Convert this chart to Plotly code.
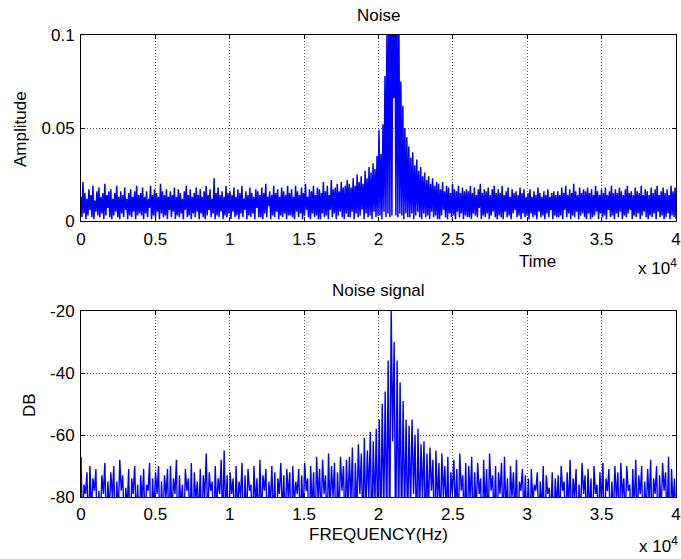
import numpy as np
import plotly.graph_objects as go

# ---------------- data ----------------
x_max = 40000  # samples span 0 .. 4 x 10^4

# top panel "Noise": local maxima / minima of the amplitude trace, left to right
top_peaks = [
    0.013, 0.021, 0.015, 0.012, 0.017, 0.014, 0.019, 0.011, 0.016, 0.018, 0.013, 0.015, 0.020, 0.014, 0.016,
    0.017, 0.012, 0.015, 0.019, 0.013, 0.016, 0.014, 0.018, 0.012, 0.015, 0.017, 0.013, 0.016, 0.019, 0.014,
    0.015, 0.018, 0.013, 0.016, 0.012, 0.019, 0.014, 0.017, 0.015, 0.013, 0.020, 0.016, 0.014, 0.017, 0.013,
    0.016, 0.014, 0.018, 0.013, 0.017, 0.015, 0.012, 0.016, 0.019, 0.014, 0.017, 0.013, 0.015, 0.018, 0.014,
    0.017, 0.013, 0.016, 0.019, 0.014, 0.017, 0.012, 0.023, 0.015, 0.018, 0.014, 0.016, 0.013, 0.019, 0.015,
    0.016, 0.014, 0.018, 0.013, 0.017, 0.015, 0.019, 0.012, 0.016, 0.014, 0.018, 0.015, 0.013, 0.017, 0.016,
    0.014, 0.018, 0.015, 0.020, 0.013, 0.016, 0.014, 0.019, 0.015, 0.017, 0.013, 0.018, 0.016, 0.014, 0.019,
    0.015, 0.017, 0.013, 0.019, 0.016, 0.014, 0.018, 0.015, 0.020, 0.013, 0.017, 0.016, 0.019, 0.014, 0.018,
    0.017, 0.015, 0.021, 0.016, 0.019, 0.014, 0.022, 0.017, 0.018, 0.020, 0.016, 0.021, 0.018, 0.019, 0.022,
    0.020, 0.018, 0.023, 0.019, 0.025, 0.021, 0.024, 0.020, 0.027, 0.023, 0.029, 0.026, 0.031, 0.028, 0.035,
    0.049, 0.036, 0.052, 0.078, 0.105, 0.130, 0.150, 0.140, 0.150, 0.130, 0.110, 0.075, 0.062, 0.050, 0.045,
    0.040, 0.034, 0.037, 0.030, 0.033, 0.027, 0.029, 0.024, 0.026, 0.022, 0.024, 0.020, 0.023, 0.019, 0.021,
    0.020, 0.017, 0.021, 0.016, 0.019, 0.018, 0.015, 0.020, 0.017, 0.016, 0.019, 0.015, 0.018, 0.016, 0.017,
    0.016, 0.019, 0.015, 0.018, 0.014, 0.017, 0.020, 0.015, 0.017, 0.016, 0.018, 0.014, 0.017, 0.019, 0.015,
    0.017, 0.015, 0.019, 0.014, 0.016, 0.018, 0.013, 0.017, 0.015, 0.016, 0.014, 0.018, 0.015, 0.017, 0.013,
    0.015, 0.017, 0.013, 0.016, 0.014, 0.018, 0.015, 0.013, 0.016, 0.014, 0.017, 0.013, 0.015, 0.016, 0.014,
    0.016, 0.014, 0.018, 0.015, 0.019, 0.014, 0.017, 0.015, 0.020, 0.016, 0.014, 0.018, 0.015, 0.017, 0.016,
    0.018, 0.015, 0.017, 0.014, 0.019, 0.016, 0.014, 0.017, 0.015, 0.018, 0.014, 0.016, 0.019, 0.015, 0.017,
    0.015, 0.018, 0.016, 0.014, 0.017, 0.019, 0.015, 0.016, 0.014, 0.018, 0.016, 0.015, 0.019, 0.014, 0.017,
    0.016, 0.014, 0.018, 0.015, 0.017, 0.019, 0.014, 0.016, 0.018, 0.015, 0.017, 0.014, 0.019, 0.016, 0.018,
]
top_troughs = [
    0.002, 0.004, 0.001, 0.003, 0.006, 0.002, 0.001, 0.005, 0.003, 0.002, 0.004, 0.001, 0.003, 0.007, 0.002,
    0.001, 0.003, 0.005, 0.002, 0.001, 0.004, 0.002, 0.006, 0.001, 0.003, 0.002, 0.005, 0.001, 0.003, 0.004,
    0.003, 0.001, 0.004, 0.002, 0.007, 0.001, 0.003, 0.002, 0.005, 0.001, 0.004, 0.002, 0.003, 0.001, 0.006,
    0.002, 0.005, 0.001, 0.003, 0.002, 0.004, 0.001, 0.006, 0.002, 0.003, 0.001, 0.004, 0.002, 0.005, 0.001,
    0.004, 0.002, 0.001, 0.003, 0.006, 0.002, 0.004, 0.001, 0.003, 0.002, 0.005, 0.001, 0.003, 0.002, 0.004,
    0.001, 0.005, 0.002, 0.003, 0.001, 0.004, 0.002, 0.006, 0.001, 0.003, 0.002, 0.004, 0.001, 0.007, 0.002,
    0.002, 0.001, 0.004, 0.002, 0.008, 0.001, 0.003, 0.002, 0.005, 0.001, 0.003, 0.002, 0.004, 0.001, 0.003,
    0.003, 0.002, 0.001, 0.005, 0.002, 0.004, 0.001, 0.003, 0.006, 0.002, 0.001, 0.004, 0.002, 0.003, 0.001,
    0.001, 0.004, 0.002, 0.003, 0.001, 0.006, 0.002, 0.004, 0.001, 0.003, 0.005, 0.002, 0.001, 0.004, 0.002,
    0.002, 0.005, 0.001, 0.004, 0.002, 0.003, 0.006, 0.001, 0.004, 0.002, 0.003, 0.001, 0.005, 0.002, 0.003,
    0.003, 0.001, 0.005, 0.002, 0.004, 0.002, 0.003, 0.066, 0.003, 0.002, 0.004, 0.003, 0.001, 0.004, 0.002,
    0.002, 0.004, 0.001, 0.003, 0.005, 0.002, 0.001, 0.004, 0.002, 0.003, 0.001, 0.005, 0.002, 0.003, 0.001,
    0.001, 0.003, 0.006, 0.002, 0.001, 0.004, 0.002, 0.003, 0.001, 0.005, 0.002, 0.004, 0.001, 0.003, 0.002,
    0.002, 0.001, 0.004, 0.003, 0.002, 0.007, 0.001, 0.003, 0.002, 0.004, 0.001, 0.003, 0.005, 0.002, 0.001,
    0.003, 0.002, 0.001, 0.005, 0.002, 0.003, 0.001, 0.004, 0.006, 0.002, 0.003, 0.001, 0.004, 0.002, 0.003,
    0.001, 0.004, 0.002, 0.003, 0.001, 0.005, 0.002, 0.003, 0.001, 0.004, 0.002, 0.006, 0.001, 0.003, 0.002,
    0.002, 0.003, 0.001, 0.006, 0.002, 0.004, 0.001, 0.003, 0.002, 0.005, 0.001, 0.003, 0.004, 0.002, 0.001,
    0.004, 0.001, 0.002, 0.003, 0.005, 0.001, 0.004, 0.002, 0.003, 0.001, 0.006, 0.002, 0.003, 0.001, 0.004,
    0.002, 0.005, 0.001, 0.003, 0.002, 0.004, 0.006, 0.001, 0.003, 0.002, 0.004, 0.001, 0.003, 0.005, 0.002,
    0.001, 0.003, 0.002, 0.004, 0.001, 0.005, 0.002, 0.003, 0.001, 0.002, 0.004, 0.001, 0.003, 0.002, 0.001,
]

# bottom panel "Noise signal": local maxima / minima of the dB trace
db_peaks = [
    -67, -76, -72, -70, -74, -71, -78, -73, -69, -75,
    -72, -70, -75, -68, -73, -77, -71, -74, -70, -76,
    -73, -71, -76, -69, -74, -72, -70, -75, -73, -71,
    -70, -74, -68, -73, -76, -71, -74, -69, -72, -75,
    -71, -73, -66, -72, -75, -70, -74, -68, -65, -73,
    -72, -74, -70, -75, -69, -73, -71, -76, -70, -74,
    -68, -73, -71, -75, -70, -72, -74, -69, -73, -71,
    -72, -70, -75, -71, -73, -69, -74, -70, -72, -67,
    -71, -68, -73, -66, -70, -69, -72, -67, -70, -68,
    -67, -64, -69, -63, -66, -61, -65, -59, -62, -58,
    -55, -50, -46, -36, -19, -30, -36, -43, -49, -55,
    -57, -55, -60, -58, -63, -62, -66, -64, -68, -65,
    -69, -66, -70, -67, -72, -68, -71, -66, -73, -69,
    -70, -67, -72, -69, -74, -68, -71, -66, -73, -70,
    -72, -69, -67, -74, -70, -72, -68, -75, -71, -73,
    -74, -71, -76, -72, -75, -70, -73, -77, -72, -74,
    -73, -70, -75, -72, -68, -74, -71, -76, -69, -73,
    -71, -74, -70, -76, -72, -69, -74, -71, -75, -70,
    -72, -69, -74, -70, -76, -71, -68, -73, -70, -75,
    -71, -68, -74, -70, -73, -69, -72, -67, -71, -74,
]
db_troughs = [
    -90, -79, -95, -85, -78, -100, -88, -79, -92, -84,
    -80, -96, -86, -78, -91, -83, -99, -79, -87, -93,
    -82, -90, -78, -97, -85, -79, -94, -88, -80, -92,
    -86, -79, -98, -83, -91, -78, -89, -95, -81, -87,
    -93, -80, -88, -78, -96, -84, -79, -90, -86, -99,
    -79, -92, -85, -80, -97, -88, -78, -93, -83, -90,
    -87, -78, -94, -82, -89, -100, -79, -86, -91, -80,
    -95, -83, -79, -90, -86, -78, -98, -84, -92, -81,
    -88, -79, -93, -85, -80, -96, -87, -78, -91, -84,
    -82, -97, -86, -79, -92, -88, -80, -94, -85, -90,
    -93, -86, -90, -95, -62, -98, -89, -92, -87, -91,
    -84, -79, -95, -88, -81, -93, -86, -78, -97, -83,
    -90, -80, -87, -96, -79, -85, -92, -78, -89, -94,
    -81, -93, -86, -79, -99, -84, -90, -78, -88, -95,
    -79, -91, -85, -97, -80, -87, -93, -78, -86, -92,
    -96, -82, -78, -90, -85, -99, -79, -88, -94, -83,
    -87, -78, -93, -84, -91, -80, -97, -86, -79, -90,
    -85, -94, -79, -89, -82, -96, -78, -92, -87, -81,
    -93, -80, -88, -78, -95, -84, -90, -79, -98, -86,
    -82, -91, -79, -94, -86, -78, -89, -97, -83, -90,
]

x_tickvals = [0, 5000, 10000, 15000, 20000, 25000, 30000, 35000, 40000]
x_ticktext = ["0", "0.5", "1", "1.5", "2", "2.5", "3", "3.5", "4"]
top_tickvals = [0, 0.05, 0.1]
top_ticktext = ["0", "0.05", "0.1"]
db_tickvals = [-80, -60, -40, -20]
db_ticktext = ["-80", "-60", "-40", "-20"]


def interleave(peaks, troughs):
    y = np.empty(len(peaks) + len(troughs))
    y[0::2] = peaks
    y[1::2] = troughs
    return y


y_top = interleave(top_peaks, top_troughs)
y_db = interleave(db_peaks, db_troughs)
x_top = np.linspace(0, x_max, len(y_top))
x_db = np.linspace(0, x_max, len(y_db))

# ---------------- figure ----------------
W, H = 681, 559
FONT = "Liberation Sans, Arial, sans-serif"
FS = 17

fig = go.Figure()
fig.add_trace(go.Scatter(x=x_top, y=y_top, mode="lines",
                         line=dict(color="#0000FF", width=1.5),
                         xaxis="x", yaxis="y", showlegend=False, hoverinfo="skip"))
fig.add_trace(go.Scatter(x=x_db, y=y_db, mode="lines",
                         line=dict(color="#0000FF", width=1.4),
                         xaxis="x2", yaxis="y2", showlegend=False, hoverinfo="skip"))

xdom = [81 / W, 676 / W]
top_dom = [(H - 221) / H, (H - 35) / H]
bot_dom = [(H - 497) / H, (H - 311) / H]

axis_common = dict(
    automargin=False,
    showline=True, linecolor="black", linewidth=1, mirror="ticks",
    ticks="inside", ticklen=4, tickcolor="black", tickwidth=1,
    showgrid=True, gridcolor="#555555", griddash="1px,2px", gridwidth=1,
    zeroline=False, tickfont=dict(family=FONT, size=FS, color="black"),
)

fig.update_layout(
    width=W, height=H, autosize=False,
    margin=dict(l=0, r=0, t=0, b=0, pad=0, autoexpand=False),
    paper_bgcolor="white", plot_bgcolor="white",
    font=dict(family=FONT, size=FS, color="black"),
    xaxis=dict(domain=xdom, anchor="y", range=[0, x_max],
               tickvals=x_tickvals, ticktext=x_ticktext, ticklabelstandoff=3, **axis_common),
    yaxis=dict(domain=top_dom, anchor="x", range=[0, 0.1],
               tickvals=top_tickvals, ticktext=top_ticktext, ticklabelstandoff=2, **axis_common),
    xaxis2=dict(domain=xdom, anchor="y2", range=[0, x_max],
                tickvals=x_tickvals, ticktext=x_ticktext, ticklabelstandoff=2, **axis_common),
    yaxis2=dict(domain=bot_dom, anchor="x2", range=[-80, -20],
                tickvals=db_tickvals, ticktext=db_ticktext, ticklabelstandoff=2, **axis_common),
)


def px_ann(text, x, y, **kw):
    fig.add_annotation(text=text, x=x / W, y=1 - y / H, xref="paper", yref="paper",
                       xanchor="center", yanchor="middle", showarrow=False,
                       font=dict(family=FONT, size=FS, color="black"), **kw)


px_ann("Noise", 378, 16)
px_ann("Noise signal", 378, 290)
px_ann("Time", 537, 261)
px_ann("FREQUENCY(Hz)", 378, 534)
px_ann("x 10<sup>4</sup>", 657, 267)
px_ann("x 10<sup>4</sup>", 658, 545)
px_ann("Amplitude", 20, 129, textangle=-90)
px_ann("DB", 29, 405, textangle=-90)

fig.write_html(
    "out.html",
    config={"responsive": False, "displayModeBar": False},
    post_script="document.body.style.margin='0';document.body.style.overflow='hidden';",
)
